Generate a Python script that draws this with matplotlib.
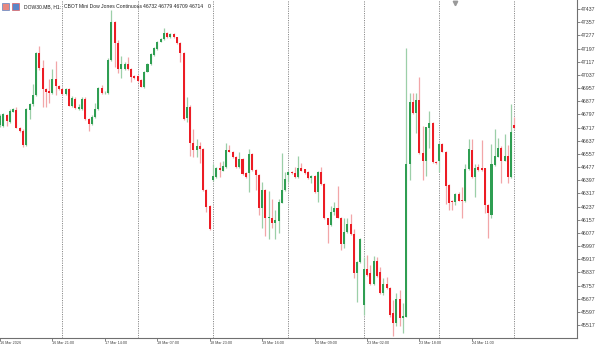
import numpy as np
import matplotlib
matplotlib.use("Agg")
import matplotlib.pyplot as plt
from matplotlib.patches import Rectangle

# ---------------- data (H1 candles, DOW30.MB) ----------------
opens = [46733, 46728, 46794, 46753, 46814, 46824, 46716, 46698, 46611, 46824,
         46858, 46915, 47168, 47077, 46951, 46939, 46925, 47010, 46970, 46951,
         46919, 46951, 46849, 46890, 46830, 46830, 46888, 46767, 46739, 46783,
         46828, 46955, 46925, 46925, 47127, 47360, 47229, 47073, 47073, 47101,
         47073, 47032, 47032, 47006, 46962, 47057, 47101, 47158, 47194, 47239,
         47255, 47290, 47266, 47285, 47266, 47229, 47168, 46773, 46844, 46621,
         46581, 46605, 46585, 46338, 46240, 46398, 46418, 46473, 46455, 46479,
         46581, 46571, 46540, 46479, 46524, 46439, 46439, 46557, 46459, 46429,
         46230, 46338, 46165, 46169, 46139, 46151, 46261, 46338, 46429, 46449,
         46439, 46418, 46469, 46463, 46445, 46409, 46422, 46327, 46445, 46374,
         46165, 46125, 46206, 46226, 46169, 46010, 46082, 46129, 46070, 45831,
         45898, 45639, 45857, 45831, 45767, 45906, 45841, 45710, 45767, 45740,
         45588, 45528, 45673, 45558, 45568, 46494, 46870, 46804, 46884, 46564,
         46516, 46712, 46746, 46510, 46516, 46617, 46571, 46366, 46269, 46265,
         46313, 46277, 46269, 46463, 46581, 46415, 46475, 46469, 46469, 46246,
         46186, 46490, 46540, 46591, 46516, 46544, 46415, 46732]

highs = [46800, 46806, 46800, 46830, 46833, 46844, 46720, 46708, 46836, 46866,
         46982, 47176, 47214, 47127, 46957, 47010, 47073, 47123, 46976, 46957,
         46957, 46957, 46909, 46903, 46860, 46903, 46904, 46775, 46794, 46868,
         46963, 46976, 46939, 47139, 47431, 47364, 47249, 47152, 47115, 47143,
         47079, 47036, 47036, 47012, 47061, 47109, 47170, 47206, 47243, 47261,
         47320, 47298, 47292, 47292, 47270, 47237, 47176, 46904, 46854, 46706,
         46646, 46631, 46593, 46344, 46246, 46496, 46477, 46510, 46514, 46621,
         46609, 46575, 46544, 46571, 46529, 46444, 46585, 46563, 46465, 46435,
         46388, 46344, 46334, 46281, 46216, 46281, 46561, 46449, 46453, 46453,
         46475, 46544, 46500, 46468, 46450, 46429, 46429, 46450, 46479, 46380,
         46170, 46240, 46266, 46363, 46173, 46165, 46165, 46191, 46099, 45906,
         46046, 45932, 45943, 45882, 45937, 45932, 45871, 45801, 45807, 45745,
         45669, 45713, 45730, 45649, 47198, 46925, 46925, 46925, 47022, 46726,
         46723, 46820, 46751, 46514, 46623, 46623, 46575, 46371, 46274, 46319,
         46327, 46358, 46496, 46646, 46646, 46496, 46496, 46641, 46474, 46252,
         46617, 46706, 46651, 46605, 46678, 46611, 46860, 46779]

lows = [46720, 46720, 46726, 46745, 46812, 46714, 46690, 46600, 46605, 46769,
        46848, 46909, 47067, 46844, 46844, 46868, 46921, 46913, 46945, 46915,
        46915, 46848, 46842, 46830, 46824, 46824, 46763, 46698, 46733, 46775,
        46824, 46921, 46921, 46921, 47121, 47086, 47047, 47016, 47067, 47067,
        46996, 47012, 46994, 46961, 46957, 47055, 47097, 47152, 47188, 47237,
        47249, 47261, 47261, 47264, 47225, 47117, 46763, 46753, 46544, 46540,
        46536, 46504, 46332, 46206, 46095, 46392, 46413, 46415, 46450, 46474,
        46566, 46532, 46474, 46474, 46429, 46409, 46327, 46453, 46338, 46186,
        46105, 46058, 46038, 46105, 46038, 46075, 46256, 46332, 46388, 46435,
        46413, 46413, 46450, 46435, 46404, 46382, 46322, 46267, 46368, 46161,
        46014, 46119, 46186, 46166, 45973, 45983, 46076, 46064, 45801, 45659,
        45894, 45578, 45815, 45760, 45760, 45809, 45706, 45700, 45736, 45568,
        45451, 45511, 45511, 45470, 45563, 46398, 46800, 46682, 46556, 46398,
        46423, 46591, 46500, 46496, 46449, 46566, 46252, 46216, 46216, 46246,
        46268, 46165, 46265, 46459, 46410, 46293, 46455, 46453, 46196, 46044,
        46165, 46484, 46535, 46382, 46511, 46382, 46410, 46709]

closes = [46787, 46798, 46757, 46820, 46828, 46716, 46698, 46611, 46830, 46858,
          46915, 47168, 47077, 46951, 46935, 46925, 47010, 46970, 46951, 46919,
          46951, 46849, 46898, 46834, 46844, 46888, 46767, 46739, 46783, 46828,
          46955, 46929, 46929, 47127, 47360, 47229, 47073, 47103, 47103, 47073,
          47026, 47016, 47000, 46966, 47057, 47101, 47164, 47200, 47239, 47255,
          47290, 47266, 47285, 47269, 47229, 47168, 46767, 46840, 46621, 46581,
          46605, 46585, 46338, 46236, 46099, 46422, 46469, 46459, 46484, 46581,
          46571, 46536, 46479, 46524, 46435, 46418, 46557, 46459, 46429, 46230,
          46338, 46169, 46175, 46139, 46155, 46265, 46338, 46402, 46449, 46439,
          46418, 46469, 46455, 46439, 46409, 46422, 46327, 46445, 46374, 46165,
          46125, 46206, 46226, 46169, 46010, 46082, 46129, 46070, 45831, 45898,
          46038, 45857, 45821, 45767, 45906, 45815, 45710, 45767, 45740, 45578,
          45528, 45673, 45558, 45572, 46496, 46870, 46804, 46884, 46560, 46516,
          46718, 46746, 46510, 46500, 46617, 46571, 46362, 46260, 46265, 46313,
          46273, 46269, 46463, 46585, 46415, 46473, 46459, 46459, 46246, 46196,
          46496, 46544, 46591, 46516, 46544, 46418, 46692, 46714]

day_separators = [19, 42, 65, 88, 111, 134, 157]          # first bar of each day
time_tick_bars = [0, 16, 32, 48, 64, 80, 96, 112, 128, 144]
time_tick_labels = ["16 Mar 2026", "16 Mar 21:00", "17 Mar 14:00", "18 Mar 07:00",
                    "18 Mar 23:00", "19 Mar 16:00", "20 Mar 09:00", "23 Mar 02:00",
                    "23 Mar 18:00", "24 Mar 11:00"]
price_ticks = [45517, 45597, 45677, 45757, 45837, 45917, 45997, 46077, 46157,
               46237, 46317, 46397, 46477, 46557, 46637, 46717, 46797, 46877,
               46957, 47037, 47117, 47197, 47277, 47357, 47437]

header_symbol = "DOW30.MB, H1:"
header_name = "CBOT Mini Dow Jones Continuous"
header_ohlc = "46732 46779 46709 46714"
header_vol = "0"

# ---------------- styling ----------------
GREEN = "#2f9e52"
RED = "#ec1c24"
GREEN_WICK = "#9ccfa8"
RED_WICK = "#f2a6a8"
TXT = "#404040"
FONT = ["Liberation Sans", "DejaVu Sans"]

W, H = 600, 345
fig = plt.figure(figsize=(W / 100, H / 100), dpi=100)
fig.patch.set_facecolor("white")
ax = fig.add_axes([0, 7 / H, 577 / W, 338 / H])
ax.set_facecolor("white")

o = np.array(opens, float)
h = np.array(highs, float)
l = np.array(lows, float)
c = np.array(closes, float)
x = np.arange(len(o))
up = c >= o

# day separators
for d in day_separators:
    ax.axvline(d, color="#8c8c8c", lw=0.7, ls=(0, (1.2, 1.2)), zorder=1)

# wicks
ax.vlines(x, l, h, colors=np.where(up, GREEN_WICK, RED_WICK), linewidth=0.9, zorder=2)
# bodies
bottom = np.minimum(o, c)
height = np.maximum(np.abs(c - o), 3.0)
ax.bar(x, height, bottom=bottom, width=0.62,
       color=np.where(up, GREEN, RED), linewidth=0, zorder=3)

ax.set_xlim(-0.02, 176.1)
ax.set_ylim(45438, 47492)

# spines
for s in ["top", "left"]:
    ax.spines[s].set_visible(False)
for s in ["right", "bottom"]:
    ax.spines[s].set_color("#707070")
    ax.spines[s].set_linewidth(0.8)

# right price axis
ax.yaxis.tick_right()
ax.set_yticks(price_ticks)
ax.set_yticklabels([str(v) for v in price_ticks], fontsize=3.8, color=TXT, family=FONT)
ax.tick_params(axis="y", length=2, width=0.6, color="#707070", pad=0.8)

# bottom time axis
ax.set_xticks(time_tick_bars)
ax.set_xticklabels(time_tick_labels, fontsize=2.7, color=TXT, family=FONT, ha="left")
ax.tick_params(axis="x", length=2, width=0.6, color="#707070", pad=0.3)

# chart shift marker
ax.plot([455 / 577], [1 - 2.5 / 338], marker="v", ms=3.2, color="#9a9a9a",
        transform=ax.transAxes, clip_on=False, zorder=5)

# header
fig.patches.append(Rectangle((2 / W, 1 - 10 / H), 7 / W, 7 / H, transform=fig.transFigure,
                             facecolor="#e8887f", edgecolor="#5a86c8", lw=0.5))
fig.patches.append(Rectangle((12 / W, 1 - 10 / H), 7 / W, 7 / H, transform=fig.transFigure,
                             facecolor="#5a86c8", edgecolor="#e06060", lw=0.5))
ty = 1 - 6.5 / H
fig.text(24 / W, ty, header_symbol, fontsize=3.6, color="#202020", va="center", family=FONT)
fig.text(64 / W, ty, header_name, fontsize=3.6, color="#202020", va="center", family=FONT)
fig.text(143 / W, ty, header_ohlc, fontsize=3.6, color="#202020", va="center", family=FONT)
fig.text(208 / W, ty, header_vol, fontsize=3.6, color="#202020", va="center", family=FONT)

fig.savefig("out.png", dpi=100, facecolor="white")
